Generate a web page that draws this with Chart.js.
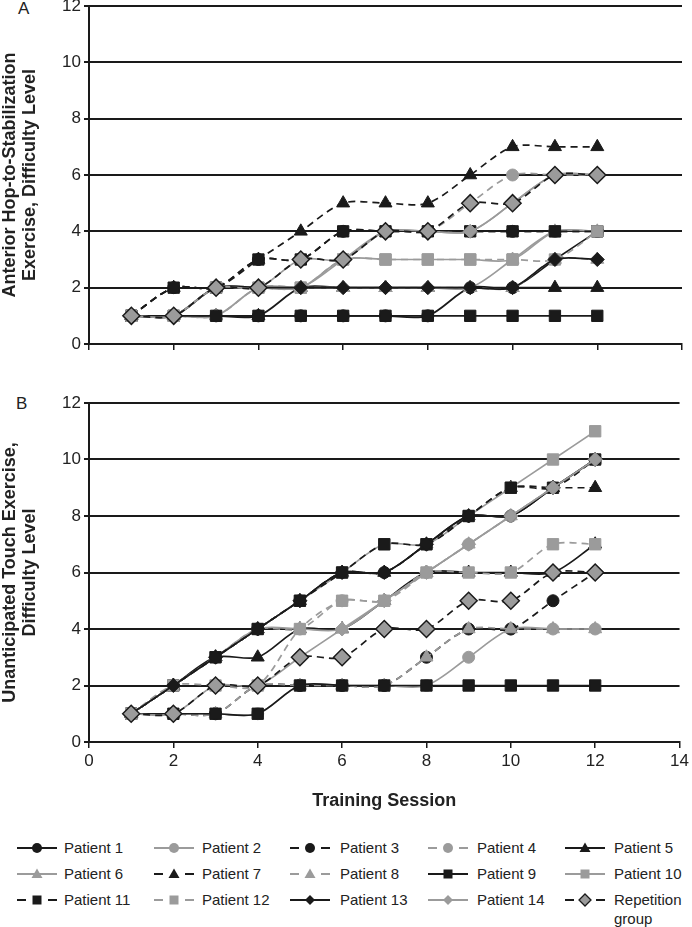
<!DOCTYPE html>
<html>
<head>
<meta charset="utf-8">
<script src="https://cdn.jsdelivr.net/npm/chart.js@4"></script>
<style>
  body { margin: 0; width: 692px; height: 927px; position: relative; background: #fff; overflow: hidden;
         font-family: "Liberation Sans", Arial, sans-serif; color: #222; }
  canvas { position: absolute; left: 0; }
  #chartA { top: -10px; }
  #chartB { top: 380px; }
  .tag { position: absolute; font-size: 17px; line-height: 17px; }
  .lg-sample { position: absolute; }
  .lg-text { position: absolute; font-size: 15px; line-height: 19px; width: 78px; }
</style>
</head>
<body>
<div class="tag" style="left:18px; top:0px;">A</div>
<div class="tag" style="left:16px; top:395px;">B</div>
<canvas id="chartA" width="692" height="372"></canvas>
<canvas id="chartB" width="692" height="440"></canvas>
<div id="legend"></div>

<script>
document.addEventListener("DOMContentLoaded", function () {

    const sessions = [1, 2, 3, 4, 5, 6, 7, 8, 9, 10, 11, 12];
    const seriesNames = [
        'Patient 1', 'Patient 2', 'Patient 3', 'Patient 4', 'Patient 5',
        'Patient 6', 'Patient 7', 'Patient 8', 'Patient 9', 'Patient 10',
        'Patient 11', 'Patient 12', 'Patient 13', 'Patient 14', 'Repetition group'
    ];

    // Panel A - anterior hop-to-stabilization, difficulty level per session
    const hop1   = [1, 1, 1, 1, 1, 1, 1, 1, 2, 2, 3, 4];
    const hop2   = [1, 1, 2, 2, 2, 3, 4, 4, 4, 5, 6, 6];
    const hop3   = [1, 2, 2, 3, 3, 4, 4, 4, 4, 4, 4, 4];
    const hop4   = [1, 1, 2, 2, 3, 3, 4, 4, 5, 6, 6, 6];
    const hop5   = [1, 1, 1, 1, 2, 2, 2, 2, 2, 2, 2, 2];
    const hop6   = [1, 1, 1, 2, 2, 2, 2, 2, 2, 3, 4, 4];
    const hop7   = [1, 2, 2, 3, 4, 5, 5, 5, 6, 7, 7, 7];
    const hop8   = [1, 1, 1, 2, 2, 2, 2, 2, 2, 2, 3, 3];
    const hop9   = [1, 1, 1, 1, 1, 1, 1, 1, 1, 1, 1, 1];
    const hop10  = [1, 1, 2, 2, 2, 3, 3, 3, 3, 3, 4, 4];
    const hop11  = [1, 2, 2, 3, 3, 4, 4, 4, 4, 4, 4, 4];
    const hop12  = [1, 1, 2, 2, 2, 3, 3, 3, 3, 3, 3, 4];
    const hop13  = [1, 1, 2, 2, 2, 2, 2, 2, 2, 2, 3, 3];
    const hop14  = [1, 1, 2, 2, 3, 3, 4, 4, 4, 5, 6, 6];
    const hopRep = [1, 1, 2, 2, 3, 3, 4, 4, 5, 5, 6, 6];

    // Panel B - unanticipated touch, difficulty level per session
    const touch1   = [1, 2, 3, 4, 5, 6, 6, 7, 8, 8, 9, 10];
    const touch2   = [1, 1, 1, 1, 2, 2, 2, 2, 3, 4, 4, 4];
    const touch3   = [1, 1, 1, 2, 2, 2, 2, 3, 4, 4, 5, 6];
    const touch4   = [1, 2, 3, 4, 4, 5, 5, 6, 7, 8, 9, 10];
    const touch5   = [1, 2, 3, 3, 4, 4, 5, 6, 6, 6, 6, 7];
    const touch6   = [1, 2, 3, 4, 4, 4, 5, 6, 7, 8, 9, 10];
    const touch7   = [1, 2, 3, 4, 5, 6, 6, 7, 8, 9, 9, 9];
    const touch8   = [1, 1, 1, 2, 2, 2, 2, 3, 4, 4, 4, 4];
    const touch9   = [1, 1, 1, 1, 2, 2, 2, 2, 2, 2, 2, 2];
    const touch10  = [1, 2, 3, 4, 5, 6, 7, 7, 8, 9, 10, 11];
    const touch11  = [1, 2, 3, 4, 5, 6, 7, 7, 8, 9, 9, 10];
    const touch12  = [1, 2, 2, 2, 4, 5, 5, 6, 6, 6, 7, 7];
    const touch13  = [1, 2, 3, 4, 5, 6, 6, 7, 8, 8, 9, 10];
    const touch14  = [1, 1, 2, 2, 3, 4, 5, 6, 7, 8, 9, 10];
    const touchRep = [1, 1, 2, 2, 3, 3, 4, 4, 5, 5, 6, 6];

    const hopSeries = [hop1, hop2, hop3, hop4, hop5, hop6, hop7, hop8, hop9, hop10,
                       hop11, hop12, hop13, hop14, hopRep];
    const touchSeries = [touch1, touch2, touch3, touch4, touch5, touch6, touch7, touch8,
                         touch9, touch10, touch11, touch12, touch13, touch14, touchRep];

    const BLACK = '#1a1a1a';
    const GRAY = '#9b9b9b';
    const FONT = '"Liberation Sans", Arial, sans-serif';

    // patients alternate black / grey, pairs alternate solid / dashed,
    // groups of four share a marker shape
    function styleFor(i) {
        const isRep = i === 14;
        const gray = !isRep && i % 2 === 1;
        const dashed = isRep || (i % 4 >= 2);
        let shape, r;
        if (i < 4) { shape = 'circle'; r = 6; }
        else if (i < 8) { shape = 'triangle'; r = 7.5; }
        else if (i < 12) { shape = 'rect'; r = 8; }
        else { shape = 'rectRot'; r = isRep ? 8.5 : 7; }
        return {
            line: gray ? GRAY : BLACK,
            fill: (gray || isRep) ? GRAY : BLACK,
            pointBorder: isRep ? BLACK : (gray ? GRAY : BLACK),
            pointBorderWidth: isRep ? 1.5 : 1,
            dash: dashed ? [7, 5] : [],
            shape: shape,
            r: r
        };
    }

    function buildDatasets(series) {
        return series.map(function (vals, i) {
            const s = styleFor(i);
            return {
                label: seriesNames[i],
                data: sessions.map(function (x, k) { return { x: x, y: vals[k] }; }),
                borderColor: s.line,
                backgroundColor: s.fill,
                borderWidth: 1.7,
                borderDash: s.dash,
                pointStyle: s.shape,
                pointRadius: s.r,
                pointBackgroundColor: s.fill,
                pointBorderColor: s.pointBorder,
                pointBorderWidth: s.pointBorderWidth,
                tension: 0.3,
                order: 15 - i   // later series drawn on top, like the original
            };
        });
    }

    function makeChart(id, series, yTitle, xTitle, padTop, xHeight) {
        const ctx = document.getElementById(id).getContext('2d');
        return new Chart(ctx, {
            type: 'line',
            data: { datasets: buildDatasets(series) },
            options: {
                responsive: false,
                animation: false,
                layout: { padding: { top: padTop, right: 9, left: 0, bottom: 0 } },
                plugins: { legend: { display: false }, tooltip: { enabled: false } },
                scales: {
                    x: {
                        type: 'linear',
                        min: 0, max: 14,
                        ticks: {
                            display: !!xTitle,
                            stepSize: 2,
                            color: '#222',
                            padding: 3,
                            font: { size: 17, family: FONT }
                        },
                        grid: { drawOnChartArea: false, drawTicks: true, tickLength: 6, color: BLACK, lineWidth: 1.5 },
                        border: { display: true, color: BLACK, width: 2 },
                        title: {
                            display: !!xTitle,
                            text: xTitle,
                            color: '#222',
                            padding: { top: 0, bottom: 8 },
                            font: { size: 18, weight: 'bold', family: FONT }
                        },
                        afterFit: function (scale) { scale.height = xHeight; }
                    },
                    y: {
                        min: 0, max: 12,
                        ticks: {
                            stepSize: 2,
                            color: '#222',
                            padding: 3,
                            font: { size: 17, family: FONT }
                        },
                        grid: { color: BLACK, lineWidth: 2, tickLength: 5 },
                        border: { display: true, color: BLACK, width: 2 },
                        title: {
                            display: true,
                            text: yTitle,
                            color: '#222',
                            padding: 0,
                            font: { size: 18, weight: 'bold', lineHeight: 1.1, family: FONT }
                        },
                        afterFit: function (scale) { scale.width = 89; }
                    }
                }
            }
        });
    }

    makeChart('chartA', hopSeries,
        ['Anterior Hop-to-Stabilization', 'Exercise, Difficulty Level'], null, 16, 18);
    makeChart('chartB', touchSeries,
        ['Unanticipated Touch Exercise,', 'Difficulty Level'], 'Training Session', 23, 78);

    // legend: 5 columns x 3 rows, drawn as html with small svg samples
    const colSample = [17, 154, 290, 428, 565];
    const colText = [64, 202, 340, 477, 614];
    const rowY = [848, 874, 900];

    function markerSvg(s, isRep) {
        const c = s.fill;
        const stroke = isRep ? ' stroke="' + BLACK + '" stroke-width="1.3"' : '';
        if (s.shape === 'circle') return '<circle cx="20" cy="8" r="5" fill="' + c + '"/>';
        if (s.shape === 'triangle') return '<polygon points="20,2.5 25.5,12 14.5,12" fill="' + c + '"/>';
        if (s.shape === 'rect') return '<rect x="15.5" y="3.5" width="9" height="9" fill="' + c + '"/>';
        const d = isRep ? 6 : 5;
        return '<polygon points="20,' + (8 - d) + ' ' + (20 + d) + ',8 20,' + (8 + d) + ' ' + (20 - d) + ',8" fill="' + c + '"' + stroke + '/>';
    }

    let html = '';
    seriesNames.forEach(function (name, i) {
        const s = styleFor(i);
        const row = Math.floor(i / 5), col = i % 5;
        const y = rowY[row];
        let lines;
        if (s.dash.length) {
            lines = '<line x1="0" y1="8" x2="9" y2="8" stroke="' + s.line + '" stroke-width="2"/>' +
                    '<line x1="31" y1="8" x2="40" y2="8" stroke="' + s.line + '" stroke-width="2"/>';
        } else {
            lines = '<line x1="0" y1="8" x2="40" y2="8" stroke="' + s.line + '" stroke-width="2"/>';
        }
        html += '<svg class="lg-sample" width="40" height="16" style="left:' + colSample[col] + 'px; top:' + (y - 8) + 'px">' +
                lines + markerSvg(s, i === 14) + '</svg>';
        html += '<div class="lg-text" style="left:' + colText[col] + 'px; top:' + (y - 10) + 'px">' + name + '</div>';
    });
    document.getElementById('legend').innerHTML = html;
});
</script>
</body>
</html>
